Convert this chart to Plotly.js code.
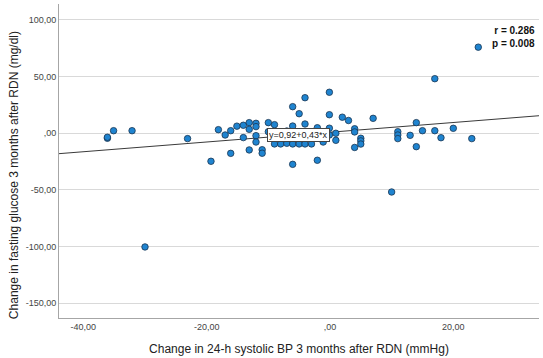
<!DOCTYPE html>
<html>
<head>
<meta charset="utf-8">
<script src="https://cdn.plot.ly/plotly-3.0.1.min.js"></script>
<style>html,body{margin:0;padding:0;background:#fff;}#chart{width:543px;height:358px;}</style>
</head>
<body>
<div id="chart"></div>
<script>
// Change in 24-h systolic BP (mmHg)
var bpChange = [-36.1, -36.1, -35.1, -32.1, -30.0, -23.1, -19.3, -18.1, -17.0, -16.1,
  -16.1, -15.1, -14.05, -14.05, -13.1, -13.1, -13.1, -12.0, -12.0, -12.0,
  -12.0, -11.0, -11.0, -10.0, -10.0, -9.0, -9.0, -8.0, -7.0, -7.0,
  -6.05, -6.05, -6.05, -6.05, -5.0, -5.0, -4.05, -4.05, -4.05, -3.0,
  -2.05, -2.05, -1.1, -0.1, -0.1, -0.1, -0.1, 0.95, 0.95, 2.0,
  3.0, 4.0, 4.0, 4.0, 5.0, 5.0, 5.0, 7.0, 10.0, 11.0,
  11.0, 11.0, 13.0, 14.0, 14.0, 15.0, 17.0, 17.0, 18.0, 20.0,
  23.0, 24.05];
// Change in fasting glucose (mg/dl)
var glucoseChange = [-4.4, -3.5, 2.3, 2.3, -100.3, -4.7, -24.7, 3.2, -1.5, 2.3,
  -17.7, 6.3, 7.1, -3.8, 9.4, 3.5, -14.7, 8.8, 5.9, -2.1,
  -7.7, -14.5, -17.6, 9.4, 1.4, 7.6, -9.4, -9.4, -8.8, 2.0,
  23.5, 6.4, -27.4, -9.4, 17.3, -9.4, 31.4, 8.2, -9.4, -9.4,
  -23.8, 4.9, -7.7, 36.2, 16.4, 4.5, -1.5, 0.0, -6.2, 14.2,
  11.3, 4.0, 1.2, -12.5, -4.4, -6.7, -9.5, 13.2, -51.8, 1.4,
  -1.5, -4.7, -1.8, 9.4, -11.8, 2.3, 48.2, 2.3, -3.9, 4.4,
  -4.7, 76.0];
// Regression line and statistics
var fitIntercept = 0.92;
var fitSlope = 0.43;
var fitLabel = "y=0,92+0,43*x";
var statsText = ["r = 0.286", "p = 0.008"];
// Axis ticks and titles
var xTickVals = [-40, -20, 0, 20];
var xTickText = ["-40,00", "-20,00", ",00", "20,00"];
var yTickVals = [100, 50, 0, -50, -100, -150];
var yTickText = ["100,00", "50,00", ",00", "-50,00", "-100,00", "-150,00"];
var xTitle = "Change in 24-h systolic BP 3 months after RDN (mmHg)";
var yTitle = "Change in fasting glucose 3 months after RDN (mg/dl)";

var xRange = [-43.95, 33.9];
var yRange = [-163, 114.1];

var fitX = [xRange[0], xRange[1]];
var fitY = fitX.map(function (x) { return fitIntercept + fitSlope * x; });

var labelX = -5.1;
var labelY = fitIntercept + fitSlope * labelX;

var traces = [
  {
    type: "scatter", mode: "lines", x: fitX, y: fitY,
    line: {color: "#3a3a3a", width: 1}, hoverinfo: "skip", showlegend: false
  },
  {
    type: "scatter", mode: "markers", x: bpChange, y: glucoseChange,
    marker: {size: 6.5, color: "#1f84d0", line: {color: "#1b3550", width: 0.8}},
    showlegend: false
  }
];

var layout = {
  width: 543, height: 358,
  margin: {l: 59, r: 4, t: 4, b: 40},
  paper_bgcolor: "#ffffff", plot_bgcolor: "#ffffff",
  font: {family: "Liberation Sans, Arial, sans-serif", color: "#333"},
  showlegend: false,
  xaxis: {
    range: xRange, tickvals: xTickVals, ticktext: xTickText,
    showgrid: false, zeroline: false, showline: true, linecolor: "#a6a6a6", linewidth: 1,
    ticks: "", tickfont: {size: 9, color: "#444"},
    title: {text: xTitle, font: {size: 12, color: "#222"}, standoff: 13}
  },
  yaxis: {
    range: yRange, tickvals: yTickVals, ticktext: yTickText,
    showgrid: true, gridcolor: "#d9d9d9", gridwidth: 1,
    zeroline: false, showline: true, linecolor: "#a6a6a6", linewidth: 1,
    ticks: "", tickfont: {size: 9, color: "#444"}
  },
  annotations: [
    {
      x: 0, y: 0.455, xref: "paper", yref: "paper", xanchor: "center", yanchor: "middle",
      xshift: -45, textangle: -90, text: yTitle, showarrow: false,
      font: {size: 12, color: "#222"}
    },
    {
      x: labelX, y: labelY, xref: "x", yref: "y", text: fitLabel, showarrow: false,
      font: {size: 9, color: "#222"}, bgcolor: "#ffffff", bordercolor: "#444", borderwidth: 1, borderpad: 1
    },
    {
      x: 1, y: 1, xref: "paper", yref: "paper", xanchor: "right", yanchor: "top",
      xshift: -2, yshift: -19, align: "right",
      text: "<b>" + statsText[0] + "</b><br><b>" + statsText[1] + "</b>",
      showarrow: false, font: {size: 10, color: "#111"}
    }
  ]
};

Plotly.newPlot("chart", traces, layout, {displayModeBar: false, staticPlot: true});
</script>
</body>
</html>
